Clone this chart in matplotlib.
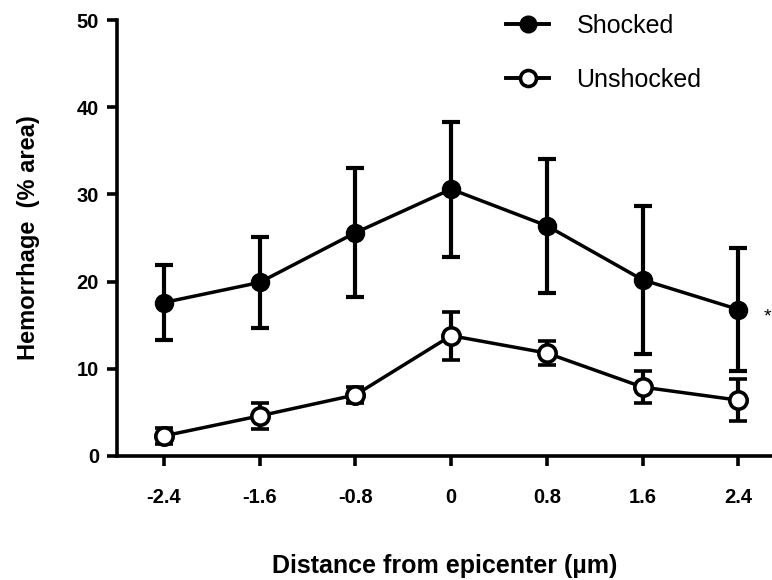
import matplotlib.pyplot as plt
from matplotlib.lines import Line2D

plt.rcParams['font.family'] = ['Liberation Sans', 'DejaVu Sans']

distance = [-2.4, -1.6, -0.8, 0, 0.8, 1.6, 2.4]
tick_labels = ["-2.4", "-1.6", "-0.8", "0", "0.8", "1.6", "2.4"]

shocked = [17.6, 19.9, 25.6, 30.6, 26.4, 20.2, 16.8]
shocked_err = [4.25, 5.25, 7.4, 7.75, 7.7, 8.5, 7.0]

unshocked = [2.3, 4.6, 7.0, 13.8, 11.8, 7.9, 6.4]
unshocked_err = [0.95, 1.45, 0.9, 2.75, 1.35, 1.8, 2.4]

fig = plt.figure(figsize=(7.72, 5.8), dpi=100)
ax = fig.add_axes([0.1516, 0.2138, 0.8484, 0.7517])

ax.errorbar(distance, shocked, yerr=shocked_err, color="black", lw=2.5,
            marker="o", ms=13, mfc="black", mec="black",
            elinewidth=3, capsize=6.5, capthick=3, zorder=3)
ax.errorbar(distance, unshocked, yerr=unshocked_err, color="black", lw=2.5,
            marker="o", ms=12.5, mfc="white", mec="black", mew=2.6,
            elinewidth=3, capsize=6.5, capthick=3, zorder=3)

ax.set_xlim(-2.79, 2.68)
ax.set_ylim(0, 50)
ax.set_xticks(distance)
ax.set_xticklabels(tick_labels)
ax.set_yticks([0, 10, 20, 30, 40, 50])

for s in ["top", "right"]:
    ax.spines[s].set_visible(False)
for s in ["left", "bottom"]:
    ax.spines[s].set_linewidth(2.6)
ax.tick_params(width=2.6, length=7, labelsize=14.5, pad=6)
ax.tick_params(axis="x", pad=16)
for lbl in ax.get_xticklabels() + ax.get_yticklabels():
    lbl.set_fontweight("bold")

ax.set_ylabel("Hemorrhage  (% area)", fontsize=17, fontweight="bold", labelpad=26)
ax.set_xlabel("Distance from epicenter (\u00b5m)", fontsize=18, fontweight="bold", labelpad=34)

ax.text(2.64, 15.9, "*", fontsize=14, ha="center", va="center")

handles = [
    Line2D([], [], color="black", lw=2.8, marker="o", ms=12, mfc="black", mec="black"),
    Line2D([], [], color="black", lw=2.8, marker="o", ms=11.5, mfc="white", mec="black", mew=2.6),
]
ax.legend(handles, ["Shocked", "Unshocked"], loc="upper left",
          bbox_to_anchor=(0.56, 1.066), frameon=False, fontsize=18,
          handlelength=1.7, labelspacing=1.2, handletextpad=1.1)

fig.savefig("out.png", dpi=100)
